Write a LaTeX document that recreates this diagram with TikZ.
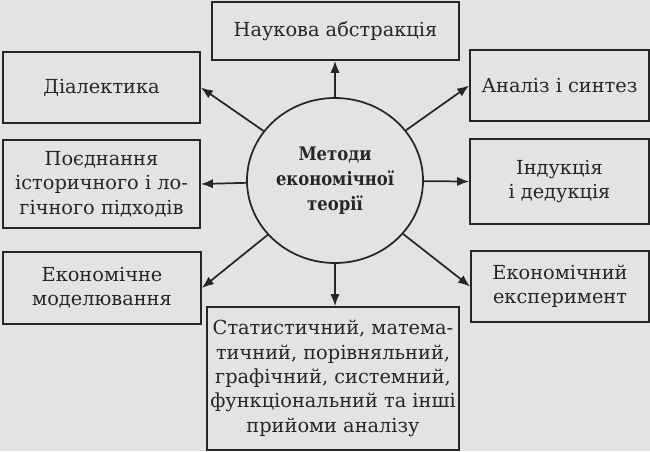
\documentclass[tikz,border=0pt]{standalone}
\usepackage{fontspec}
\setmainfont{DejaVu Serif}
\newfontfamily\metodyfont[FakeStretch=0.88]{DejaVu Serif}
\usetikzlibrary{arrows.meta,shapes.geometric}
\definecolor{paper}{gray}{0.89}
\definecolor{ink}{gray}{0.15}

\begin{document}
\begin{tikzpicture}
        [x=0.75pt,y=-0.75pt,>={Latex[length=9pt,width=7pt]},line width=1.3pt,draw=ink,
         every node/.style={draw=ink,text=ink,align=center,inner sep=0pt,
                            font=\fontsize{14.5}{18.3}\selectfont}]
        \fill[paper] (0,0) rectangle (650,451);
        \useasboundingbox (0,0) rectangle (650,451);
        \tikzset{MethodStyle/.style = {shape = rectangle,
                                  minimum width  = #1}}
        \node[ellipse, minimum width=132pt, minimum height=123.75pt, inner xsep=-20pt, inner ysep=-10pt,
              font=\metodyfont\fontsize{14}{18.8}\selectfont\bfseries] (Metody) at (335,180.5) {Методи\\економічної\\теорії};
        \node[MethodStyle=185.25pt, minimum height=43.5pt] (Abstraktsiia) at (335.5,31) {Наукова абстракція};
        \node[MethodStyle=147.75pt, minimum height=53.25pt] (Dialektyka) at (101.5,87.5) {Діалектика};
        \node[MethodStyle=147.75pt, minimum height=66pt] (Poiednannia) at (101.5,184) {Поєднання\\історичного і ло-\\гічного підходів};
        \node[MethodStyle=134.25pt, minimum height=53.25pt] (Analiz) at (559.5,85.5) {Аналіз і синтез};
        \node[MethodStyle=134.25pt, minimum height=63.75pt] (Induktsiia) at (559.5,181.5) {Індукція\\і дедукція};
        \node[MethodStyle=148.5pt, minimum height=54pt] (Modeliuvannia) at (102,288) {Економічне\\моделювання};
        \node[MethodStyle=133.5pt, minimum height=53.25pt] (Eksperyment) at (560,286.5) {Економічний\\експеримент};
        \node[MethodStyle=189pt, minimum height=107.25pt] (Pryiomy) at (333,378.5) {Статистичний, матема-\\тичний, порівняльний,\\графічний, системний,\\функціональний та інші\\прийоми аналізу};
        \foreach \to in {Metody |- Abstraktsiia.south, Dialektyka.east, Poiednannia.east, Analiz.west,
                         Induktsiia.west, Modeliuvannia.east, Eksperyment.west, Metody |- Pryiomy.north}
            \draw[->] (Metody) -- (\to);
    \end{tikzpicture}
\end{document}
